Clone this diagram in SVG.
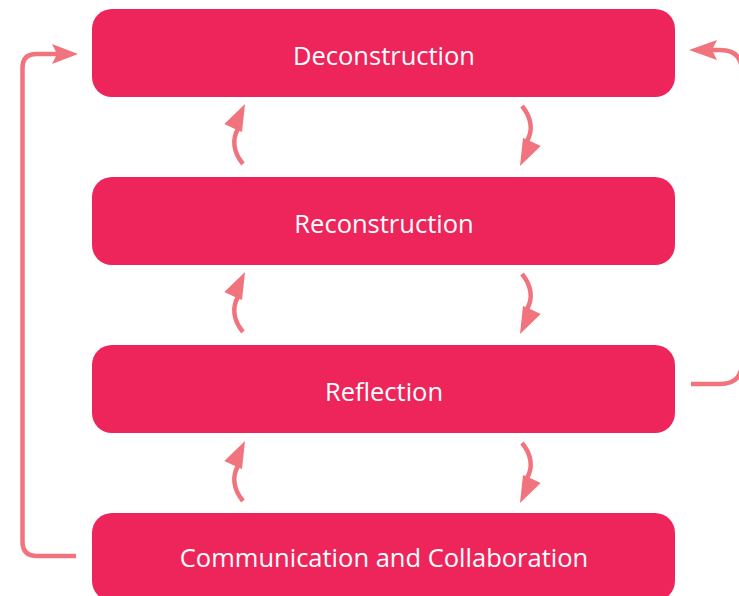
<svg xmlns="http://www.w3.org/2000/svg" xmlns:xlink="http://www.w3.org/1999/xlink" width="739" height="596" viewBox="0 0 739 596">
  <style>
    .box { fill: #EE255B; }
    .label { fill: #FFFFFF; font-family: "Open Sans", "Noto Sans", "DejaVu Sans", sans-serif; font-size: 25.5px; text-anchor: middle; }
    .line { fill: none; stroke: #F1737E; stroke-width: 4.5; }
    .head { fill: #F1737E; }
  </style>
  <defs>
    <g id="curl-up">
      <path class="line" d="M0,29 C-10,17 -11,4 -5,-6"/>
      <path class="head" d="M2,-31 L-18.7,-11 L-7,-5.5 L-1,-3 Z"/>
    </g>
  </defs>

  <g id="connectors">
    <!-- left feedback: Communication and Collaboration -> Deconstruction -->
    <path class="line" d="M76,556 H37 Q22.5,556 22.5,541.5 V68 Q22.5,54 36.5,54 H60"/>
    <path class="head" d="M78,54 L52,44 L57,54 L52,64 Z"/>
    <!-- right feedback: Reflection -> Deconstruction -->
    <path class="line" d="M691,384 H720 Q742,384 742,362 V72 Q742,50 720,50 H712"/>
    <path class="head" d="M689,50 L717,40 L712,50 L717,60 Z"/>
    <!-- curled arrows between stages -->
    <use xlink:href="#curl-up" href="#curl-up" transform="translate(243,135)"/>
    <use xlink:href="#curl-up" href="#curl-up" transform="translate(522,135) rotate(180)"/>
    <use xlink:href="#curl-up" href="#curl-up" transform="translate(243,303)"/>
    <use xlink:href="#curl-up" href="#curl-up" transform="translate(522,303) rotate(180)"/>
    <use xlink:href="#curl-up" href="#curl-up" transform="translate(243,472)"/>
    <use xlink:href="#curl-up" href="#curl-up" transform="translate(522,472) rotate(180)"/>
  </g>

  <g id="node-deconstruction">
    <rect class="box" x="92" y="9" width="583" height="88" rx="20" ry="20"/>
    <text class="label" x="384" y="64.5">Deconstruction</text>
  </g>
  <g id="node-reconstruction">
    <rect class="box" x="92" y="177" width="583" height="88" rx="20" ry="20"/>
    <text class="label" x="384" y="232.5">Reconstruction</text>
  </g>
  <g id="node-reflection">
    <rect class="box" x="92" y="345" width="583" height="88" rx="20" ry="20"/>
    <text class="label" x="384" y="400.5">Reflection</text>
  </g>
  <g id="node-communication">
    <rect class="box" x="92" y="513" width="583" height="88" rx="20" ry="20"/>
    <text class="label" x="384" y="567">Communication and Collaboration</text>
  </g>
</svg>
